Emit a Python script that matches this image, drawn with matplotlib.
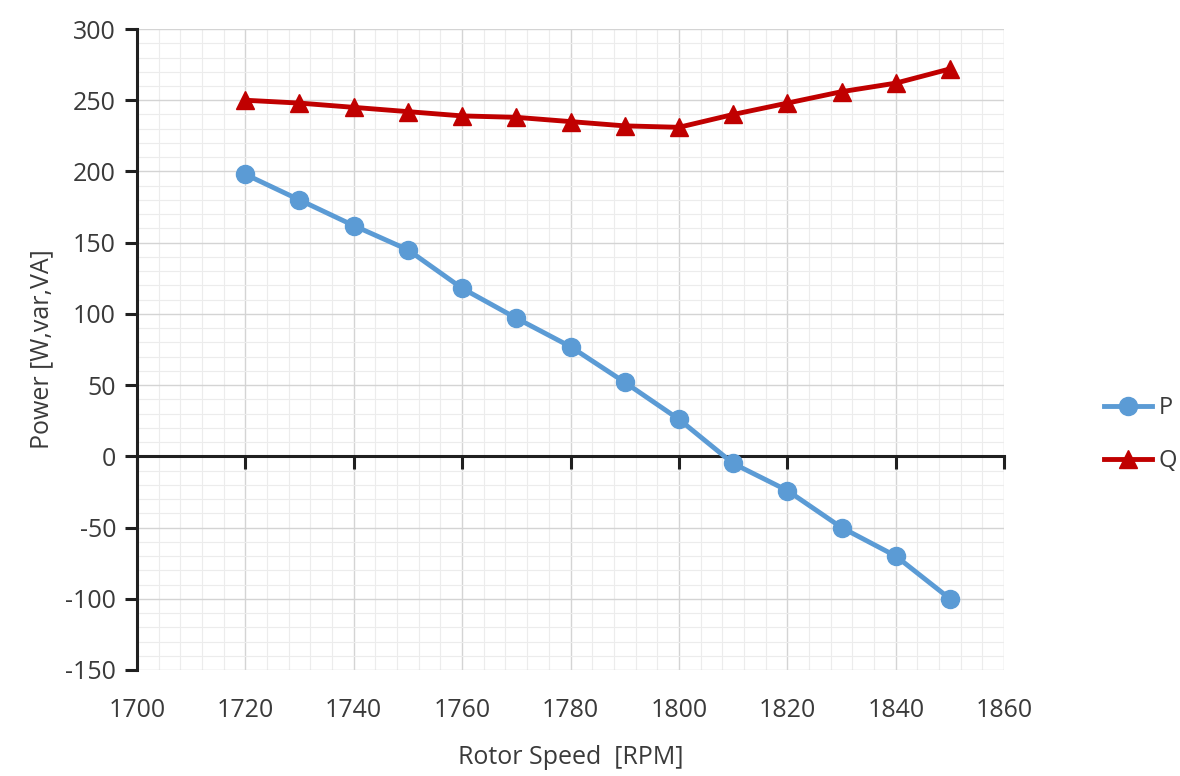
# Rotor speed vs. active / reactive power

import matplotlib.pyplot as plt
from matplotlib.ticker import MultipleLocator

# data
speed = [1720, 1730, 1740, 1750, 1760, 1770, 1780, 1790, 1800, 1810, 1820, 1830, 1840, 1850]
p_power = [198, 180, 162, 145, 118, 97, 77, 52, 26, -5, -24, -50, -70, -100]
q_power = [250, 248, 245, 242, 239, 238, 235, 232, 231, 240, 248, 256, 262, 272]

plt.rcParams['font.family'] = ['Open Sans', 'DejaVu Sans']
plt.rcParams['axes.unicode_minus'] = False
text_color = '#3a3a3a'

fig = plt.figure(figsize=(11.8, 7.76), dpi=100)
ax = fig.add_axes([0.116, 0.1366, 0.735, 0.826])

ax.plot(speed, p_power, color='#5B9BD5', linewidth=3.5, marker='o', markersize=13, label='P', zorder=4)
ax.plot(speed, q_power, color='#C00000', linewidth=3.5, marker='^', markersize=13, label='Q', zorder=5)

ax.set_xlim(1700, 1860)
ax.set_ylim(-150, 300)
ax.xaxis.set_major_locator(MultipleLocator(20))
ax.xaxis.set_minor_locator(MultipleLocator(4))
ax.yaxis.set_major_locator(MultipleLocator(50))
ax.yaxis.set_minor_locator(MultipleLocator(10))

# grid
ax.grid(which='major', color='#d4d4d4', linewidth=1.0, zorder=0)
ax.grid(which='minor', color='#ececec', linewidth=0.8, zorder=0)
ax.set_axisbelow(True)

# left axis solid, horizontal axis crosses at zero but labels sit at the bottom
ax.spines['top'].set_visible(False)
ax.spines['right'].set_visible(False)
ax.spines['left'].set_color('#202020')
ax.spines['left'].set_linewidth(2.2)
ax.spines['bottom'].set_position(('data', 0))
ax.spines['bottom'].set_color('#202020')
ax.spines['bottom'].set_linewidth(2.2)
ax.tick_params(axis='y', which='major', length=9, width=2.2, color='#202020',
               labelsize=18, labelcolor=text_color, pad=6)
ax.tick_params(axis='x', which='major', length=9, width=2.2, color='#202020',
               labelsize=18, labelcolor=text_color, pad=165)
ax.tick_params(which='minor', length=0)

ax.set_xlabel('Rotor Speed  [RPM]', fontsize=18, color=text_color, labelpad=16)
ax.set_ylabel('Power [W,var,VA]', fontsize=18, color=text_color, labelpad=8)

fig.legend(loc='center left', bbox_to_anchor=(0.928, 0.44), frameon=False,
           fontsize=17, labelcolor=text_color, handlelength=2.0, labelspacing=1.25,
           handletextpad=0.3, borderaxespad=0)

fig.savefig('out.png', dpi=100)
